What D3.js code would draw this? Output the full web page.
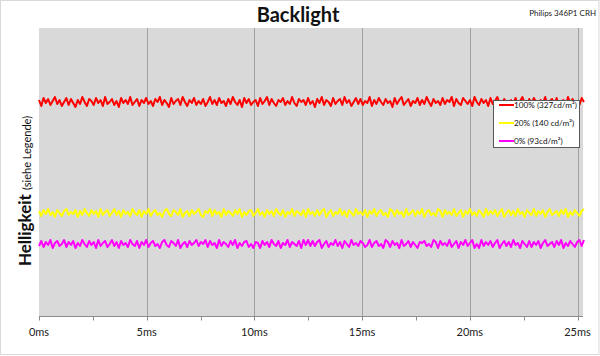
<!DOCTYPE html>
<html><head><meta charset="utf-8">
<script src="https://cdn.jsdelivr.net/npm/d3@7"></script>
<style>html,body{margin:0;padding:0;background:#fff;}svg{display:block;}</style>
</head><body>
<svg id="c" width="600" height="356"></svg>
<script>
const title = "Backlight";
const subtitle = "Philips 346P1  CRH";
const xTicks = [0, 5, 10, 15, 20, 25];
const xMinorTicks = [2.5, 7.5, 12.5, 17.5, 22.5];
const xTickUnit = "ms";
const xMax = 25.3;
const seriesNames = ["100% (327cd/m²)", "20% (140 cd/m²)", "0% (93cd/m²)"];
const seriesColors = ["#ff0000", "#ffff00", "#ff00ff"];
const red100 = [216,210,218,213,217,211,215,219,212,216,210,214,218,211,217,213,209,216,212,219,214,210,217,215,
211,218,213,216,210,219,212,214,217,211,215,209,218,213,216,212,219,211,214,217,210,216,213,218,
212,215,210,217,214,219,211,216,213,209,218,212,215,217,211,219,214,210,216,213,218,211,215,212,
217,210,214,219,212,216,211,218,213,215,210,217,212,219,214,211,216,209,218,213,217,211,214,216,
210,218,212,215,219,211,217,213,210,216,214,218,211,215,212,219,213,210,217,214,216,211,218,212,
215,209,217,213,219,211,216,214,210,218,212,215,217,211,219,213,216,210,214,218,212,217,211,215,
213,219,210,216,212,218,214,211,217,213,215,209,218,212,216,219,211,214,217,210,215,213,218,211,
216,212,219,214,210,217,213,215,211,218,212,216,214,219,210,217,213,211,218,215,212,216,210,219,
214,211,217,213,216,210,218,212,215,219,213,211,217,214,209,216,212,218,211,215,219,213,210,217,
212,218,214,211,216,213,219,210,215,217,212,218,211,214,216,210,219,213,217,212,215,211,218,214];
const yellow20 = [105,100,106,102,107,101,104,99,106,103,100,105,107,101,104,102,106,99,105,101,107,103,100,106,
102,105,99,107,101,104,106,100,103,107,101,105,99,106,102,104,100,107,103,101,106,99,105,102,
107,100,104,106,101,103,99,105,107,102,100,106,104,101,107,99,103,105,100,106,102,104,107,101,
99,105,103,107,100,106,102,104,99,107,101,105,103,100,106,102,107,99,104,101,105,106,100,103,
107,101,104,99,106,102,105,100,107,103,101,106,99,104,102,107,100,105,103,101,106,99,107,102,
104,100,106,101,105,107,99,103,106,100,104,102,107,101,105,99,106,103,100,107,102,104,101,106,
99,105,102,107,100,104,106,101,103,99,107,105,100,106,102,104,99,107,101,103,106,100,105,102,
107,99,104,106,101,103,100,107,105,99,106,102,104,101,107,100,103,106,99,105,102,107,101,104,
100,106,103,99,107,101,105,102,106,100,104,107,99,103,106,101,105,100,107,102,104,99,106,103,
101,107,100,105,102,106,99,104,107,101,103,105,100,106,102,107,99,104,101,106,103,100,105,107];
const magenta0 = [70,75,69,74,71,76,68,73,75,70,72,76,69,74,71,75,68,73,70,76,72,69,75,71,
74,68,76,70,73,75,69,72,76,70,74,68,75,71,73,69,76,72,70,75,68,74,71,76,
69,73,75,70,72,68,74,76,71,69,75,73,70,76,68,72,74,69,75,71,73,76,70,74,
72,76,69,75,71,73,68,76,70,74,72,69,75,71,76,68,73,70,74,75,69,72,68,74,
73,68,75,71,74,69,76,72,70,75,68,73,71,76,69,74,72,70,75,68,76,71,76,70,
75,70,74,76,68,72,75,69,73,71,76,70,74,68,75,72,69,76,71,73,70,75,73,69,
71,76,69,73,75,70,72,68,76,74,69,75,71,73,68,76,70,72,75,69,74,71,68,74,
73,75,70,72,69,76,74,68,75,71,73,70,76,69,72,75,68,74,71,76,70,73,76,68,
72,68,76,70,74,71,75,69,73,76,68,72,75,70,74,69,76,71,73,68,75,72,69,75,
69,74,71,75,68,73,76,70,72,74,69,75,71,76,68,73,70,75,72,69,74,76,70,76];
const seriesData = [red100, yellow20, magenta0];

const svg = d3.select("#c");
const plot = {left: 39, right: 583, top: 28, bottom: 316};

svg.append("rect").attr("x",0.5).attr("y",0.5).attr("width",598.5).attr("height",354)
  .attr("fill","#fff").attr("stroke","#d9d9d9");

const x = d3.scaleLinear().domain([0, xMax]).range([plot.left, plot.left + (xMax/25)*(577.5-plot.left)]);
const y = d3.scaleLinear().domain([0, 288]).range([plot.bottom, plot.top]);

svg.append("rect").attr("x",plot.left).attr("y",plot.top)
  .attr("width",plot.right-plot.left).attr("height",plot.bottom-plot.top).attr("fill","#d9d9d9");

// gridlines
svg.append("g").selectAll("line").data(xTicks.slice(1)).join("line")
  .attr("x1",d=>Math.round(x(d))+0.5).attr("x2",d=>Math.round(x(d))+0.5)
  .attr("y1",plot.top).attr("y2",plot.bottom).attr("stroke","#a0a0a0").attr("stroke-width",1);

// series
seriesData.forEach((s,k)=>{
  svg.append("path").datum(s).attr("fill","none").attr("stroke",seriesColors[k])
    .attr("stroke-width",2).attr("stroke-linejoin","round")
    .attr("d", d3.line().x((d,i)=>x(i*xMax/(s.length-1))).y(d=>y(d)));
});

// x axis
const ax = svg.append("g").attr("transform",`translate(0,${plot.bottom}.5)`);
ax.append("line").attr("x1",plot.left).attr("x2",plot.right).attr("stroke","#8c8c8c");
ax.selectAll("line.t").data(xTicks.concat(xMinorTicks)).join("line").attr("class","t")
  .attr("x1",d=>Math.round(x(d))+0.5).attr("x2",d=>Math.round(x(d))+0.5)
  .attr("y1",0).attr("y2",4).attr("stroke","#8c8c8c");
ax.selectAll("text").data(xTicks).join("text")
  .attr("x",d=>x(d)).attr("y",19.5).attr("text-anchor","middle")
  .attr("font-family","Lato, sans-serif").attr("font-size",11).attr("fill","#222")
  .text(d=>d+xTickUnit);

// title
svg.append("text").attr("x",298).attr("y",22).attr("text-anchor","middle")
  .attr("font-family","Lato, sans-serif").attr("font-weight","bold").attr("font-size",20)
  .attr("fill","#111").text(title);
svg.append("text").attr("x",596).attr("y",16).attr("text-anchor","end")
  .attr("font-family","Lato, sans-serif").attr("font-size",8).attr("fill","#222").text(subtitle);

// y label
const yl = svg.append("text").attr("transform","translate(31,191) rotate(-90)")
  .attr("text-anchor","middle").attr("font-family","Lato, sans-serif").attr("fill","#111");
yl.append("tspan").attr("font-weight","bold").attr("font-size",17).text("Helligkeit ");
yl.append("tspan").attr("font-size",11).text("(siehe Legende)");

// legend
const lg = svg.append("g");
lg.append("rect").attr("x",493.5).attr("y",100.5).attr("width",86).attr("height",47)
  .attr("fill","#fff").attr("stroke","#595959");
seriesNames.forEach((n,k)=>{
  const yy = 105 + k*18;
  lg.append("line").attr("x1",499).attr("x2",514).attr("y1",yy).attr("y2",yy)
    .attr("stroke",seriesColors[k]).attr("stroke-width",2);
  lg.append("text").attr("x",514).attr("y",yy+3).attr("font-family","Lato, sans-serif")
    .attr("font-size",8.2).attr("fill","#111").text(n);
});
</script>
</body></html>
